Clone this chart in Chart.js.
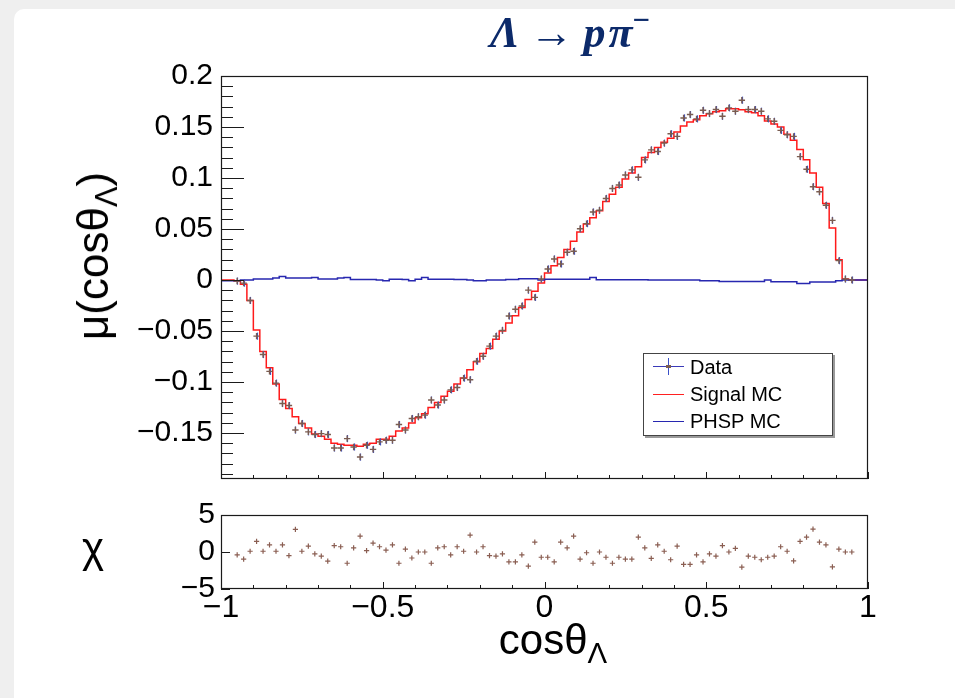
<!DOCTYPE html>
<html><head><meta charset="utf-8">
<script src="https://cdn.jsdelivr.net/npm/chart.js@4.4.0/dist/chart.umd.min.js"></script>
<style>
html,body{margin:0;padding:0;width:955px;height:698px;overflow:hidden;background:#efefef;font-family:"Liberation Sans",Arial,sans-serif;}
#card{position:absolute;left:14px;top:9px;width:941px;height:689px;background:#fff;border-top-left-radius:10px;}
canvas{position:absolute;left:0;}
#main{top:0;}
#chi{top:490px;}
.t{position:absolute;white-space:nowrap;color:#000;line-height:1;}
#legend{position:absolute;left:643px;top:353px;width:188px;height:81px;border:1px solid #444;box-shadow:2px 2px 0 #9a9a9a;background:#fff;font-size:20px;}
#legend .row{position:absolute;left:46px;line-height:1;transform:translateY(-50%);}
#legend .ln{position:absolute;left:9px;width:31px;height:1px;}
</style></head><body>
<div id="card"></div>
<canvas id="main" width="955" height="505"></canvas>
<canvas id="chi" width="955" height="208"></canvas>

<div class="t" style="left:570px;top:33px;transform:translate(-50%,-50%);font-family:'Liberation Serif',serif;font-weight:bold;font-size:44px;color:#0c2a6a;"><i>Λ</i><span style="margin:0 10px;">→</span><i>p</i><i style="margin-left:3px;">π</i><span style="position:relative;top:-0.55em;font-size:0.7em;">−</span></div>
<div class="t" style="left:93px;top:256px;transform:translate(-50%,-50%) rotate(-90deg);font-size:44px;">μ(cosθ<span style="font-size:0.7em;position:relative;top:0.3em;">Λ</span>)</div>
<div class="t" style="left:93px;top:548px;transform:translate(-50%,-50%);font-size:42px;">χ</div>
<div class="t" style="left:553px;top:640px;transform:translate(-50%,-50%);font-size:42px;">cosθ<span style="font-size:0.7em;position:relative;top:0.3em;">Λ</span></div>

<div id="legend">
  <div class="ln" style="top:12px;background:#3a3ab8;"></div>
  <div style="position:absolute;left:24px;top:4px;width:1px;height:17px;background:#3a50c8;"></div>
  <div style="position:absolute;left:22px;top:11px;width:5px;height:3px;background:#7a5c50;"></div>
  <div class="row" style="top:13px;">Data</div>
  <div class="ln" style="top:40px;background:#ff2020;"></div>
  <div class="row" style="top:40px;">Signal MC</div>
  <div class="ln" style="top:67px;background:#2727b0;"></div>
  <div class="row" style="top:67px;">PHSP MC</div>
</div>

<script>
// ---- binning (categories) ----
const X_MIN = -1, X_MAX = 1, N_BINS = 100;

// ---- series values, one value per bin, null = no point ----
const DATA_VALUES = [
 null, null, -0.001, -0.003, -0.020, -0.055, -0.073, -0.0895, -0.101, -0.121,
 -0.123, -0.147, -0.1406, -0.1488, -0.1514, -0.1505, -0.1514, -0.1646, -0.1646, -0.1554,
 -0.1636, -0.1735, -0.1619, -0.166, -0.1586, -0.157, -0.157, -0.1416, -0.147, -0.1357,
 -0.134, -0.1324, -0.1176, -0.1225, -0.1176, -0.1076, -0.1053, -0.0961, -0.0977, -0.0796,
 -0.0747, -0.0648, -0.055, -0.0493, -0.0352, -0.0286, -0.0254, -0.0099, -0.017, 0.001,
 0.0109, 0.0207, 0.0158, 0.0273, 0.0283, 0.0503, 0.0553, 0.0667, 0.0684, 0.080,
 0.0898, 0.0931, 0.103, 0.108, 0.1007, 0.1178, 0.1276, 0.126, 0.1342, 0.1434,
 0.1408, 0.1589, 0.1622, 0.158, 0.1664, 0.1632, 0.1671, 0.1605, 0.1688, 0.1655,
 0.1763, 0.1671, 0.1671, 0.1655, 0.158, 0.1556, 0.1467, 0.1424, 0.1408, 0.121,
 0.1086, 0.0915, 0.0865, 0.0733, 0.0585, 0.019, 0.001, 0.000, null, null
];
const DATA_ERR = 0.0035;

const SIGNAL_MC = [
 0, 0, -0.001, -0.004, -0.020, -0.049, -0.070, -0.086, -0.102, -0.117,
 -0.126, -0.134, -0.1405, -0.145, -0.151, -0.153, -0.156, -0.160, -0.161, -0.162,
 -0.162, -0.163, -0.161, -0.160, -0.156, -0.156, -0.153, -0.148, -0.145, -0.140,
 -0.135, -0.131, -0.125, -0.120, -0.114, -0.109, -0.102, -0.096, -0.088, -0.080,
 -0.072, -0.067, -0.058, -0.050, -0.042, -0.035, -0.027, -0.019, -0.011, -0.003,
 0.007, 0.014, 0.022, 0.030, 0.038, 0.047, 0.055, 0.061, 0.068, 0.077,
 0.084, 0.091, 0.099, 0.105, 0.111, 0.120, 0.125, 0.130, 0.135, 0.139,
 0.145, 0.151, 0.155, 0.157, 0.161, 0.163, 0.165, 0.166, 0.168, 0.168,
 0.167, 0.165, 0.164, 0.161, 0.156, 0.153, 0.150, 0.143, 0.137, 0.128,
 0.118, 0.105, 0.091, 0.075, 0.051, 0.020, 0.001, 0, 0, 0
];

const PHSP_MC = [
 -0.0007, -0.0007, -0.0007, 0, 0, 0.001, 0.001, 0.001, 0.002, 0.0036,
 0.002, 0.002, 0.002, 0.002, 0.0026, 0.001, 0.001, 0.001, 0.002, 0.0026,
 0.0006, 0.0006, 0.0006, 0.0006, 0, -0.0007, 0.0009, 0.0009, 0.0006, -0.0007,
 0.0009, 0.0026, 0.0009, 0.0009, 0.0009, 0.0009, 0.0006, 0.0006, 0, -0.0007,
 -0.0007, 0, 0, 0, 0.0006, 0.0006, 0.0012, 0.0012, 0.0012, 0,
 0.0009, 0.0009, 0.0009, 0.0009, 0.0009, 0.0009, 0.0009, 0.0026, 0.0003, 0.0003,
 0.0003, 0.0003, 0.0003, 0.0003, 0.0003, 0.0003, 0, 0, 0, 0,
 0, 0, 0, 0, -0.0007, -0.0007, -0.0007, -0.0013, -0.0013, -0.0013,
 -0.0013, -0.0013, -0.0013, -0.0013, 0, -0.0016, -0.0016, -0.0016, -0.0016, -0.0033,
 -0.0033, -0.002, -0.002, -0.002, -0.002, -0.0007, 0, 0, 0, 0
];

const CHI_VALUES = [
 null, null, -0.38, -0.95, 0.1, 1.43, 0.1, 0.95, 0.1, 0.95,
 -0.48, 3.05, 0.1, 0.8, -0.24, -0.57, -1.24, 0.86, 0.71, -1.52,
 0.57, 2.14, 0.19, 1.19, 0.71, 0.24, 0.95, -1.52, 0.38, -0.81,
 0, 0, -1.52, 0.57, 0.71, -0.38, 0.71, 0.1, 2.29, 0,
 0.71, -0.48, -0.57, -0.24, -1.33, -1.33, -0.38, -1.9, 1.33, -0.71,
 -0.71, -1.33, 1.33, 0.57, 2.14, -0.95, -0.1, -1.52, 0, -0.71,
 -1.52, -0.71, -0.95, -0.95, 2.0, 0.57, -0.86, 0.95, 0.1, -1.05,
 0.8, -1.67, -1.67, -0.38, -1.33, -0.24, -0.57, 0.86, 0, 0.48,
 -2.05, -0.57, -0.71, -1.05, -0.71, -0.57, 0.71, 0.1, -1.19, 1.43,
 2.0, 3.1, 1.33, 0.95, -2.0, 0.38, 0, 0, null, null
];

// ---- tick labels ----
const Y_TICKS = [-0.15, -0.1, -0.05, 0, 0.05, 0.1, 0.15, 0.2];
const Y_TICK_LABELS = ['\u22120.15', '\u22120.1', '\u22120.05', '0', '0.05', '0.1', '0.15', '0.2'];
const CHI_TICKS = [-5, 0, 5];
const CHI_TICK_LABELS = ['\u22125', '0', '5'];
const X_TICKS = [-1, -0.5, 0, 0.5, 1];
const X_TICK_LABELS = ['\u22121', '\u22120.5', '0', '0.5', '1'];

// ---- helpers built from the arrays ----
const BIN_W = (X_MAX - X_MIN) / N_BINS;
const centerOf = i => X_MIN + BIN_W * (i + 0.5);
function stepPoints(vals) {
  const pts = vals.map((v, i) => ({x: X_MIN + BIN_W * i, y: v}));
  pts.push({x: X_MAX, y: vals[vals.length - 1]});
  return pts;
}
function pointData(vals) {
  const out = [];
  vals.forEach((v, i) => { if (v !== null) out.push({x: centerOf(i), y: v}); });
  return out;
}

function framePlugin(opt) {
  return {
    id: 'frame' + opt.name,
    beforeDatasetDraw(chart, args) {
      if (!opt.errors || args.index !== 0) return;
      const {ctx, scales: {x, y}} = chart;
      ctx.save();
      ctx.strokeStyle = '#3a50c8';
      ctx.lineWidth = 1.2;
      chart.data.datasets[0].data.forEach(p => {
        const px = Math.round(x.getPixelForValue(p.x)) + 0.5;
        ctx.beginPath();
        ctx.moveTo(px, y.getPixelForValue(p.y - DATA_ERR));
        ctx.lineTo(px, y.getPixelForValue(p.y + DATA_ERR));
        ctx.stroke();
      });
      ctx.restore();
    },
    afterDraw(chart) {
      const {ctx, chartArea: a, scales: {x, y}} = chart;
      ctx.save();
      ctx.strokeStyle = '#1a1a1a';
      ctx.lineWidth = 1.2;
      ctx.strokeRect(a.left + 0.5, a.top + 0.5, a.right - a.left - 1, a.bottom - a.top - 1);
      ctx.lineWidth = 1;
      ctx.beginPath();
      const ys = opt.yMinor;
      for (let k = Math.ceil(y.min / ys - 1e-9); k <= Math.floor(y.max / ys + 1e-9); k++) {
        const v = k * ys;
        const major = Math.abs(v / opt.yMajor - Math.round(v / opt.yMajor)) < 1e-6;
        const len = major ? opt.yMajLen : opt.yMinLen;
        if (!len) continue;
        const py = Math.round(y.getPixelForValue(v)) + 0.5;
        ctx.moveTo(a.left, py); ctx.lineTo(a.left + len, py);
      }
      for (let k = -10; k <= 10; k++) {
        const v = k / 10;
        const major = k % 5 === 0;
        const len = major ? opt.xMajLen : opt.xMinLen;
        const px = Math.round(x.getPixelForValue(v)) + 0.5;
        ctx.moveTo(px, a.bottom); ctx.lineTo(px, a.bottom - len);
      }
      ctx.stroke();
      ctx.restore();
    }
  };
}

const FONT = 'Liberation Sans';

new Chart(document.getElementById('main'), {
  type: 'line',
  data: {datasets: [
    {label: 'Data', data: pointData(DATA_VALUES), showLine: false, pointStyle: 'cross',
     pointRadius: 3.2, pointBorderColor: '#7a5c50', borderColor: '#7a5c50', pointBorderWidth: 1.4, order: 0},
    {label: 'PHSP MC', data: stepPoints(PHSP_MC), stepped: 'before', borderColor: '#2727b0',
     borderWidth: 1.5, pointRadius: 0, fill: false, order: 1},
    {label: 'Signal MC', data: stepPoints(SIGNAL_MC), stepped: 'before', borderColor: '#ff1a1a',
     borderWidth: 1.5, pointRadius: 0, fill: false, order: 2}
  ]},
  options: {
    responsive: false, animation: false, events: [],
    layout: {padding: {top: 76, right: 87, bottom: 13, left: 0}},
    plugins: {legend: {display: false}, tooltip: {enabled: false}},
    scales: {
      x: {type: 'linear', min: X_MIN, max: X_MAX, display: false},
      y: {type: 'linear', min: -0.195, max: 0.2,
          afterFit: s => { s.width = 221; },
          afterBuildTicks: s => { s.ticks = Y_TICKS.map(v => ({value: v})); },
          grid: {display: false, drawTicks: false}, border: {display: false},
          ticks: {font: {family: FONT, size: 30}, color: '#000', padding: 8, autoSkip: false,
                  callback: (v, i) => Y_TICK_LABELS[i]}}
    }
  },
  plugins: [framePlugin({name: 'main', errors: true, yMinor: 0.01, yMajor: 0.05, yMajLen: 23, yMinLen: 12, xMajLen: 7, xMinLen: 4})]
});

new Chart(document.getElementById('chi'), {
  type: 'line',
  data: {datasets: [
    {label: 'chi', data: pointData(CHI_VALUES), showLine: false, pointStyle: 'cross',
     pointRadius: 2.6, pointBorderColor: '#8a5e52', borderColor: '#8a5e52', pointBorderWidth: 1.2}
  ]},
  options: {
    responsive: false, animation: false, events: [],
    layout: {padding: {top: 25, right: 87, bottom: 67, left: 0}},
    plugins: {legend: {display: false}, tooltip: {enabled: false}},
    scales: {
      x: {type: 'linear', min: X_MIN, max: X_MAX,
          afterFit: s => { s.height = 42; },
          afterBuildTicks: s => { s.ticks = X_TICKS.map(v => ({value: v})); },
          grid: {display: false, drawTicks: false}, border: {display: false},
          ticks: {font: {family: FONT, size: 32}, color: '#000', padding: 0, autoSkip: false, maxRotation: 0,
                  callback: (v, i) => X_TICK_LABELS[i]}},
      y: {type: 'linear', min: -5, max: 5,
          afterFit: s => { s.width = 221; },
          afterBuildTicks: s => { s.ticks = CHI_TICKS.map(v => ({value: v})); },
          grid: {display: false, drawTicks: false}, border: {display: false},
          ticks: {font: {family: FONT, size: 30}, color: '#000', padding: 6, autoSkip: false,
                  callback: (v, i) => CHI_TICK_LABELS[i]}}
    }
  },
  plugins: [framePlugin({name: 'chi', errors: false, yMinor: 5, yMajor: 5, yMajLen: 9, yMinLen: 0, xMajLen: 7, xMinLen: 4})]
});
</script>
</body></html>
